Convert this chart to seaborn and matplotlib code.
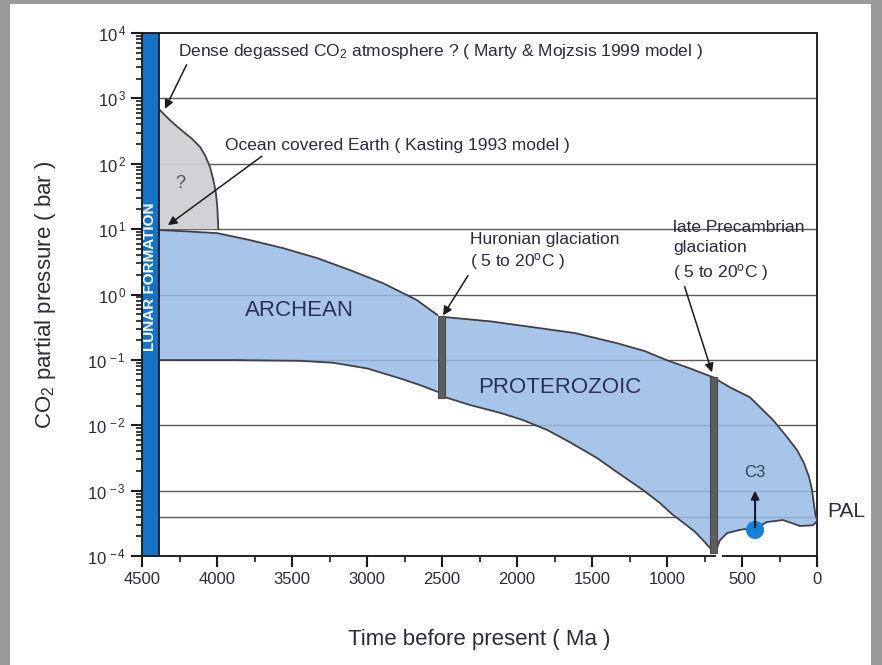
import numpy as np
import pandas as pd
import matplotlib
matplotlib.use("Agg")
import matplotlib.pyplot as plt
from matplotlib import font_manager
from matplotlib.patches import Rectangle
import seaborn as sns

# ---- data (age in Ma, CO2 partial pressure in bar) ----
marty_age = [4380, 4347, 4313, 4269, 4224, 4169, 4113, 4080, 4047, 4024, 4007, 3998, 3991]
marty_p = [661, 553, 464, 376, 308, 244, 181, 135, 89.7, 56.1, 35.2, 21.9, 10]
marty_floor = 10

archean_age = [4380, 4227, 4000, 3780, 3560, 3333, 3113, 2893, 2667, 2530]
archean_top = [9.66, 9.31, 8.69, 6.79, 5.12, 3.61, 2.36, 1.49, 0.82, 0.484]
archean_bot_age = [4380, 3893, 3447, 3227, 3000, 2780, 2647, 2530]
archean_bot = [0.0993, 0.0993, 0.0968, 0.0904, 0.0741, 0.0521, 0.0412, 0.0325]

prot_top_age = [2480, 2180, 1893, 1613, 1333, 1147, 1000, 847, 693, 580, 447,
                293, 200, 133, 87, 53, 33, 20, 10, 0]
prot_top = [0.451, 0.389, 0.316, 0.257, 0.180, 0.136, 0.0986, 0.0741, 0.0542,
            0.0380, 0.0268, 0.0120, 0.00661, 0.00417, 0.00263, 0.00162,
            0.00102, 0.000603, 0.000420, 0.000360]
prot_bot_age = [2480, 2313, 2113, 1960, 1800, 1647, 1467, 1313, 1160, 1047, 967,
                880, 813, 747, 700, 680, 647, 600, 513, 400, 333, 227, 113, 27, 0]
prot_bot = [0.0269, 0.0204, 0.0155, 0.0120, 0.0085, 0.0055, 0.00316, 0.00178,
            0.00102, 0.000646, 0.000437, 0.000309, 0.000234, 0.000162,
            0.000123, 0.000112, 0.000174, 0.000224, 0.000251, 0.000275,
            0.000331, 0.000355, 0.000288, 0.000295, 0.000340]

glaciations = pd.DataFrame({
    "name": ["Huronian", "late Precambrian"],
    "age": [2505, 690],
    "top": [0.47, 0.055],
    "bottom": [0.026, 0.00011],
})

lunar_age = (4500, 4390)
pal = 4e-4
c3_age, c3_p, c3_tip = 413, 2.5e-4, 1.1e-3

x_ticks = [4500, 4000, 3500, 3000, 2500, 2000, 1500, 1000, 500, 0]
y_exps = [-4, -3, -2, -1, 0, 1, 2, 3, 4]

# ---- style ----
sns.set_theme(style="white")
names = {f.name for f in font_manager.fontManager.ttflist}
narrow = "Liberation Sans Narrow" if "Liberation Sans Narrow" in names else "Liberation Sans"
plt.rcParams["font.family"] = [narrow, "DejaVu Sans"]
plt.rcParams["mathtext.fontset"] = "custom"
plt.rcParams["mathtext.rm"] = narrow
plt.rcParams["mathtext.it"] = narrow
plt.rcParams["mathtext.bf"] = narrow + ":bold"

TXT = "#2b2b3a"
GRID = "#5a5a5a"
BLUE_FILL = "#98bbe6"
GRAY_FILL = "#d0d0d4"
EDGE = "#404048"

fig = plt.figure(figsize=(8.82, 6.65), dpi=100)
fig.patch.set_facecolor("#9b9b9b")
fig.add_artist(Rectangle((10 / 882, 0), 861 / 882, 661 / 665,
                         transform=fig.transFigure, facecolor="white",
                         edgecolor="none", zorder=-10))
ax = fig.add_axes([142 / 882, 1 - 556 / 665, 675 / 882, 523 / 665])
ax.set_facecolor("none")
ax.set_yscale("log")
ax.set_xlim(4500, 0)
ax.set_ylim(1e-4, 1e4)

# horizontal reference lines at each decade and at PAL
for e in y_exps[1:-1]:
    ax.axhline(10.0 ** e, color=GRID, lw=1.0, zorder=1)
ax.axhline(pal, color=GRID, lw=1.0, zorder=1)

# degassed atmosphere envelope (grey)
mx = marty_age + [marty_age[0]]
my = marty_p + [marty_floor]
ax.fill(mx, my, color=GRAY_FILL, alpha=0.95, zorder=2, lw=0)
sns.lineplot(x=marty_age, y=marty_p, sort=False, color=EDGE, lw=1.3, ax=ax, zorder=3)

# Archean band
ax.fill(archean_age + archean_bot_age[::-1], archean_top + archean_bot[::-1],
        color=BLUE_FILL, alpha=0.85, zorder=2, lw=0)
sns.lineplot(x=archean_age, y=archean_top, sort=False, color=EDGE, lw=1.3, ax=ax, zorder=3)
sns.lineplot(x=archean_bot_age, y=archean_bot, sort=False, color=EDGE, lw=1.3, ax=ax, zorder=3)

# Proterozoic / Phanerozoic band
ax.fill(prot_top_age + prot_bot_age[::-1], prot_top + prot_bot[::-1],
        color=BLUE_FILL, alpha=0.85, zorder=2, lw=0)
sns.lineplot(x=prot_top_age, y=prot_top, sort=False, color=EDGE, lw=1.3, ax=ax, zorder=3)
sns.lineplot(x=prot_bot_age, y=prot_bot, sort=False, color=EDGE, lw=1.3, ax=ax, zorder=3)
ax.plot([prot_top_age[-1], prot_bot_age[-1]], [prot_top[-1], prot_bot[-1]],
        color=EDGE, lw=1.3, zorder=3)

# glaciation bars
for _, g in glaciations.iterrows():
    ax.add_patch(Rectangle((g["age"] + 25, g["bottom"]), -50, g["top"] - g["bottom"],
                           facecolor="#5e5e5e", edgecolor="#4a4a4a", lw=0.8, zorder=4))

# lunar formation bar
ax.add_patch(Rectangle((lunar_age[0], 1e-4), lunar_age[1] - lunar_age[0], 1e4 - 1e-4,
                       facecolor="#1672c4", edgecolor="#101820", lw=1.3, zorder=5))
ax.text(sum(lunar_age) / 2, 10 ** 0.27, "LUNAR FORMATION", rotation=90,
        color="white", fontsize=11, fontweight="bold", ha="center", va="center", zorder=6)

# C3 marker
sns.scatterplot(x=[c3_age], y=[c3_p], s=170, color="#1a80d4", edgecolor="none",
                ax=ax, zorder=7)
ax.annotate("", xy=(c3_age, c3_tip), xytext=(c3_age, c3_p),
            arrowprops=dict(arrowstyle="-|>", color="#1c1c28", lw=1.5,
                            mutation_scale=12), zorder=7)
ax.text(c3_age, 10 ** -2.73, "C3", color="#34435e", fontsize=12, ha="center",
        va="center", zorder=7)
ax.text(-70, 10 ** -3.32, "PAL", color=TXT, fontsize=15, ha="left", va="center",
        clip_on=False)

# break in the time axis just after the late Precambrian glaciation
ax.plot([672, 636], [1e-4, 1e-4], color="white", lw=3, zorder=9, clip_on=False,
        solid_capstyle="butt")

# labels
ax.text(3447, 10 ** -0.25, "ARCHEAN", fontsize=16, color="#2a2f55", ha="center", va="center", zorder=6)
ax.text(1713, 10 ** -1.43, "PROTEROZOIC", fontsize=16, color="#2a2f55", ha="center", va="center", zorder=6)
ax.text(4247, 10 ** 1.70, "?", fontsize=13, color="#555560", ha="center", va="center", zorder=6)

arrow = dict(arrowstyle="-|>", color="#1c1c1c", lw=1.1, mutation_scale=13,
             shrinkA=0, shrinkB=0)
ax.annotate("Dense degassed CO$_2$ atmosphere ? ( Marty & Mojzsis 1999 model )",
            xy=(4347, 10 ** 2.84), xytext=(4262, 10 ** 3.71), fontsize=12.5,
            color=TXT, ha="left", va="center", zorder=8,
            arrowprops=dict(arrow, relpos=(0.02, 0.0)))
ax.annotate("Ocean covered Earth ( Kasting 1993 model )",
            xy=(4327, 10 ** 1.06), xytext=(3947, 10 ** 2.28), fontsize=12.5,
            color=TXT, ha="left", va="center", zorder=8,
            arrowprops=dict(arrow, relpos=(0.12, 0.0)))
ax.annotate("Huronian glaciation\n( 5 to 20$^o$C )",
            xy=(2493, 10 ** -0.32), xytext=(2313, 10 ** 0.96), fontsize=12.5,
            color=TXT, ha="left", va="top", linespacing=1.3, zorder=8,
            arrowprops=dict(arrow, relpos=(0.0, 0.0)))
ax.annotate("late Precambrian\nglaciation\n( 5 to 20$^o$C )",
            xy=(700, 10 ** -1.19), xytext=(960, 10 ** 1.14), fontsize=12.5,
            color=TXT, ha="left", va="top", linespacing=1.45, zorder=8,
            arrowprops=dict(arrow, relpos=(0.08, 0.0)))

# axes and ticks
ax.set_xticks(x_ticks)
ax.set_xticklabels([str(t) for t in x_ticks])
ax.set_xticks(np.arange(4250, 0, -500), minor=True)
ax.set_yticks([10.0 ** e for e in y_exps])
ax.set_yticklabels([f"$10^{{\\,{e}}}$" for e in y_exps])
ax.yaxis.set_minor_locator(matplotlib.ticker.LogLocator(base=10, subs=np.arange(2, 10), numticks=20))
ax.yaxis.set_minor_formatter(matplotlib.ticker.NullFormatter())
ax.tick_params(axis="both", which="major", direction="out", length=8, width=1.5,
               color="#1a1a1a", labelsize=12, labelcolor=TXT, bottom=True, left=True)
ax.tick_params(axis="both", which="minor", direction="out", length=4, width=1.2,
               color="#1a1a1a", bottom=True, left=True)
for side in ["left", "bottom", "top", "right"]:
    ax.spines[side].set_visible(True)
    ax.spines[side].set_color("#222222")
    ax.spines[side].set_linewidth(1.4)
ax.set_xlabel("Time before present ( Ma )", fontsize=16, color=TXT, labelpad=30)
ax.set_ylabel("CO$_2$ partial pressure ( bar )", fontsize=16, color=TXT, labelpad=21)
ax.grid(False)

fig.savefig("out.png", dpi=100, facecolor=fig.get_facecolor())
